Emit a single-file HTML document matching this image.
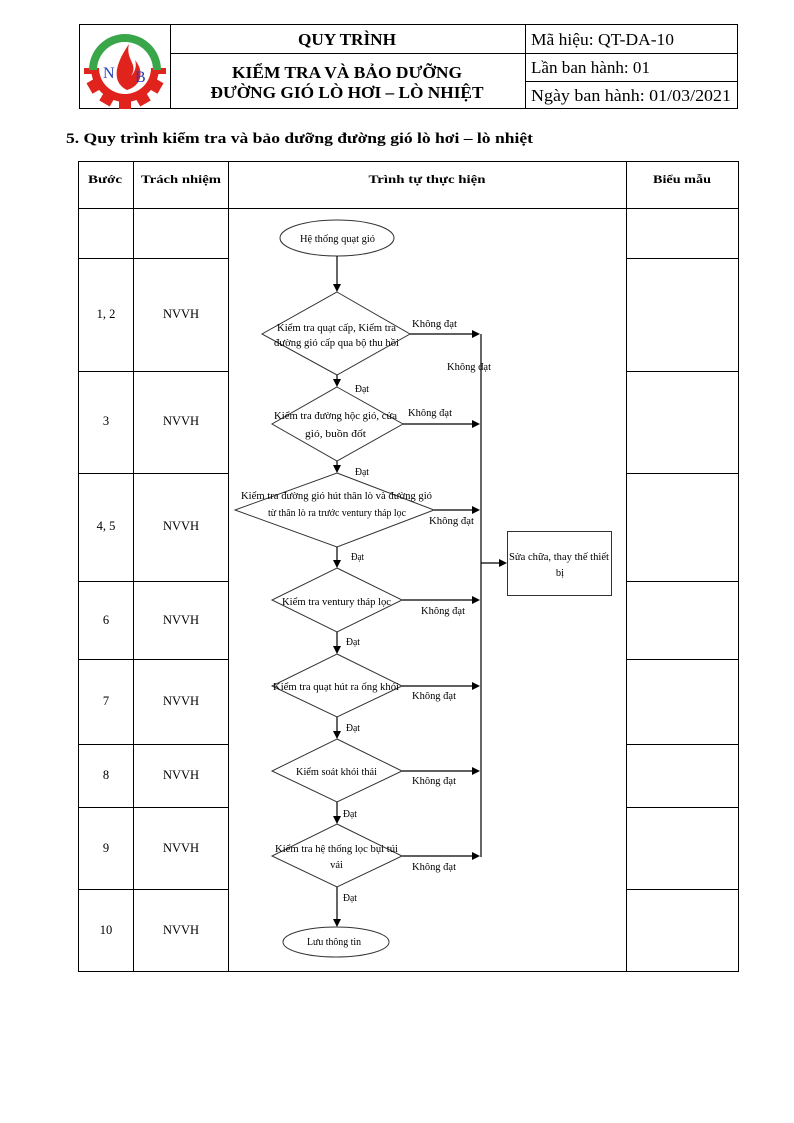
<!DOCTYPE html>
<html><head><meta charset="utf-8"><style>
html,body{margin:0;padding:0;background:#fff;}
svg{display:block;}
text{font-family:"Liberation Serif","DejaVu Serif",serif;fill:#000;}
.b{font-weight:bold;}
.f{font-size:10.5px;}
</style></head><body>
<svg width="794" height="1123" viewBox="0 0 794 1123" xmlns="http://www.w3.org/2000/svg">
<rect width="794" height="1123" fill="#fff"/>
<!-- Header table -->
<g stroke="#000" stroke-width="1" fill="none">
<rect x="79.5" y="24.5" width="658" height="84"/>
<line x1="170.5" y1="24" x2="170.5" y2="109"/>
<line x1="525.5" y1="24" x2="525.5" y2="109"/>
<line x1="170" y1="53.5" x2="738" y2="53.5"/>
<line x1="525" y1="81.5" x2="738" y2="81.5"/>
</g>
<!-- Logo -->
<g transform="translate(125,68)">
<g fill="#e0231c">
<circle r="34"/>
<g id="teeth">
<rect x="-6" y="-41" width="12" height="10"/>
<rect x="-6" y="-41" width="12" height="10" transform="rotate(30)"/>
<rect x="-6" y="-41" width="12" height="10" transform="rotate(60)"/>
<rect x="-6" y="-41" width="12" height="10" transform="rotate(90)"/>
<rect x="-6" y="-41" width="12" height="10" transform="rotate(120)"/>
<rect x="-6" y="-41" width="12" height="10" transform="rotate(150)"/>
<rect x="-6" y="-41" width="12" height="10" transform="rotate(180)"/>
<rect x="-6" y="-41" width="12" height="10" transform="rotate(210)"/>
<rect x="-6" y="-41" width="12" height="10" transform="rotate(240)"/>
<rect x="-6" y="-41" width="12" height="10" transform="rotate(270)"/>
<rect x="-6" y="-41" width="12" height="10" transform="rotate(300)"/>
<rect x="-6" y="-41" width="12" height="10" transform="rotate(330)"/>
</g>
</g>
<path d="M-42,0 A42,42 0 0 1 42,0 L0,0 Z" fill="#fff"/>
<path d="M-36,2 A36,36 0 0 1 36,2 L28,2 A28,28 0 0 0 -28,2 Z" fill="#3aa64a"/>
<circle r="26" fill="#fff"/>
<path d="M2,22 C-14,14 -10,-4 4,-24 C0,-8 14,-4 6,8 C10,4 12,-2 10,-8 C20,4 16,18 2,22 Z" fill="#e0231c"/>
<text x="-22" y="10" style="font-size:16px;fill:#2b3fb0;">N</text>
<text x="10" y="14" style="font-size:16px;fill:#2b3fb0;">B</text>
</g>
<!-- Header text -->
<text class="b" x="347" y="45" text-anchor="middle" style="font-size:16.5px;" textLength="98" lengthAdjust="spacingAndGlyphs">QUY TRÌNH</text>
<text class="b" x="347" y="78" text-anchor="middle" style="font-size:16.5px;" textLength="230" lengthAdjust="spacingAndGlyphs">KIỂM TRA VÀ BẢO DƯỠNG</text>
<text class="b" x="347" y="98" text-anchor="middle" style="font-size:16.5px;" textLength="273" lengthAdjust="spacingAndGlyphs">ĐƯỜNG GIÓ LÒ HƠI – LÒ NHIỆT</text>
<text x="531" y="45" style="font-size:17px;" textLength="143" lengthAdjust="spacingAndGlyphs">Mã hiệu: QT-DA-10</text>
<text x="531" y="73" style="font-size:17px;" textLength="119" lengthAdjust="spacingAndGlyphs">Lần ban hành: 01</text>
<text x="531" y="101" style="font-size:17px;" textLength="200" lengthAdjust="spacingAndGlyphs">Ngày ban hành: 01/03/2021</text>
<!-- Section title -->
<text class="b" x="66" y="143" style="font-size:15px;" textLength="467" lengthAdjust="spacingAndGlyphs">5.  Quy trình kiểm tra và bảo dưỡng đường gió lò hơi – lò nhiệt</text>
<!-- Main table -->
<g stroke="#000" stroke-width="1" fill="none">
<rect x="78.5" y="161.5" width="660" height="810"/>
<line x1="133.5" y1="161" x2="133.5" y2="972"/>
<line x1="228.5" y1="161" x2="228.5" y2="972"/>
<line x1="626.5" y1="161" x2="626.5" y2="972"/>
<line x1="78" y1="208.5" x2="739" y2="208.5"/>
<path d="M78 258.5H228M626 258.5H739M78 371.5H228M626 371.5H739M78 473.5H228M626 473.5H739M78 581.5H228M626 581.5H739M78 659.5H228M626 659.5H739M78 744.5H228M626 744.5H739M78 807.5H228M626 807.5H739M78 889.5H228M626 889.5H739"/>
</g>
<text class="b" x="105" y="183" text-anchor="middle" style="font-size:12px;" textLength="34" lengthAdjust="spacingAndGlyphs">Bước</text>
<text class="b" x="181" y="183" text-anchor="middle" style="font-size:12px;" textLength="80" lengthAdjust="spacingAndGlyphs">Trách nhiệm</text>
<text class="b" x="427" y="183" text-anchor="middle" style="font-size:12px;" textLength="117" lengthAdjust="spacingAndGlyphs">Trình tự thực hiện</text>
<text class="b" x="682" y="183" text-anchor="middle" style="font-size:12px;" textLength="58" lengthAdjust="spacingAndGlyphs">Biểu mẫu</text>
<g style="font-size:12.5px;" text-anchor="middle">
<text x="106" y="318">1, 2</text><text x="181" y="318">NVVH</text>
<text x="106" y="425">3</text><text x="181" y="425">NVVH</text>
<text x="106" y="530">4, 5</text><text x="181" y="530">NVVH</text>
<text x="106" y="624">6</text><text x="181" y="624">NVVH</text>
<text x="106" y="705">7</text><text x="181" y="705">NVVH</text>
<text x="106" y="779">8</text><text x="181" y="779">NVVH</text>
<text x="106" y="852">9</text><text x="181" y="852">NVVH</text>
<text x="106" y="934">10</text><text x="181" y="934">NVVH</text>
</g>
<!-- Flowchart shapes -->
<g stroke="#333" stroke-width="1" fill="none">
<ellipse cx="337" cy="238" rx="57" ry="18"/>
<polygon points="337,292 410,334 337,375 262,334"/>
<polygon points="337,387 403,424 337,461 272,424"/>
<polygon points="337,473 434,510 337,547 235,510"/>
<polygon points="337,568 402,600 337,632 272,600"/>
<polygon points="337,654 402,686 337,717 272,686"/>
<polygon points="337,739 402,771 337,802 272,771"/>
<polygon points="337,824 402,856 337,887 272,856"/>
<ellipse cx="336" cy="942" rx="53" ry="15"/>
<rect x="507.5" y="531.5" width="104" height="64"/>
</g>
<!-- Connectors -->
<g stroke="#000" stroke-width="1.2" fill="none">
<path d="M337 256V285M337 375V380M337 461V466M337 547V561M337 632V647M337 717V732M337 802V817M337 887V920"/>
<path d="M410 334H473M403 424H473M434 510H473M402 600H473M402 686H473M402 771H473M402 856H473"/>
<path d="M481 334V857M481 563H500"/>
</g>
<g fill="#000">
<polygon points="333,284 341,284 337,292"/>
<polygon points="333,379 341,379 337,387"/>
<polygon points="333,465 341,465 337,473"/>
<polygon points="333,560 341,560 337,568"/>
<polygon points="333,646 341,646 337,654"/>
<polygon points="333,731 341,731 337,739"/>
<polygon points="333,816 341,816 337,824"/>
<polygon points="333,919 341,919 337,927"/>
<polygon points="472,330 472,338 480,334"/>
<polygon points="472,420 472,428 480,424"/>
<polygon points="472,506 472,514 480,510"/>
<polygon points="472,596 472,604 480,600"/>
<polygon points="472,682 472,690 480,686"/>
<polygon points="472,767 472,775 480,771"/>
<polygon points="472,852 472,860 480,856"/>
<polygon points="499,559 499,567 507,563"/>
</g>
<!-- Flowchart text -->
<g class="f">
<text x="337.5" y="242" text-anchor="middle" textLength="75" lengthAdjust="spacingAndGlyphs">Hệ thống quạt gió</text>
<text x="336.5" y="331" text-anchor="middle" textLength="119" lengthAdjust="spacingAndGlyphs">Kiểm tra quạt cấp, Kiểm tra</text>
<text x="336.5" y="346" text-anchor="middle" textLength="125" lengthAdjust="spacingAndGlyphs">đường gió cấp qua bộ thu hồi</text>
<text x="412" y="327" textLength="45" lengthAdjust="spacingAndGlyphs">Không đạt</text>
<text x="447" y="370" textLength="44" lengthAdjust="spacingAndGlyphs">Không đạt</text>
<text x="355" y="392" textLength="14" lengthAdjust="spacingAndGlyphs">Đạt</text>
<text x="335.5" y="419" text-anchor="middle" textLength="123" lengthAdjust="spacingAndGlyphs">Kiểm tra đường hộc gió, cửa</text>
<text x="335.5" y="437" text-anchor="middle" textLength="61" lengthAdjust="spacingAndGlyphs">gió, buồn đốt</text>
<text x="408" y="416" textLength="44" lengthAdjust="spacingAndGlyphs">Không đạt</text>
<text x="355" y="475" textLength="14" lengthAdjust="spacingAndGlyphs">Đạt</text>
<text x="336.5" y="499" text-anchor="middle" textLength="191" lengthAdjust="spacingAndGlyphs">Kiểm tra đường gió hút thân lò và đường gió</text>
<text x="337" y="516" text-anchor="middle" textLength="138" lengthAdjust="spacingAndGlyphs">từ thân lò ra trước ventury tháp lọc</text>
<text x="429" y="524" textLength="45" lengthAdjust="spacingAndGlyphs">Không đạt</text>
<text x="351" y="560" textLength="13" lengthAdjust="spacingAndGlyphs">Đạt</text>
<text x="559" y="560" text-anchor="middle" textLength="100" lengthAdjust="spacingAndGlyphs">Sửa chữa, thay thế thiết</text>
<text x="560" y="576" text-anchor="middle">bị</text>
<text x="336.5" y="605" text-anchor="middle" textLength="109" lengthAdjust="spacingAndGlyphs">Kiểm tra ventury tháp lọc</text>
<text x="421" y="614" textLength="44" lengthAdjust="spacingAndGlyphs">Không đạt</text>
<text x="346" y="645" textLength="14" lengthAdjust="spacingAndGlyphs">Đạt</text>
<text x="336" y="690" text-anchor="middle" textLength="126" lengthAdjust="spacingAndGlyphs">Kiểm tra quạt hút ra ống khói</text>
<text x="412" y="699" textLength="44" lengthAdjust="spacingAndGlyphs">Không đạt</text>
<text x="346" y="731" textLength="14" lengthAdjust="spacingAndGlyphs">Đạt</text>
<text x="336.5" y="775" text-anchor="middle" textLength="81" lengthAdjust="spacingAndGlyphs">Kiểm soát khói thải</text>
<text x="412" y="784" textLength="44" lengthAdjust="spacingAndGlyphs">Không đạt</text>
<text x="343" y="817" textLength="14" lengthAdjust="spacingAndGlyphs">Đạt</text>
<text x="336.5" y="852" text-anchor="middle" textLength="123" lengthAdjust="spacingAndGlyphs">Kiểm tra hệ thống lọc bụi túi</text>
<text x="336.5" y="868" text-anchor="middle">vải</text>
<text x="412" y="870" textLength="44" lengthAdjust="spacingAndGlyphs">Không đạt</text>
<text x="343" y="901" textLength="14" lengthAdjust="spacingAndGlyphs">Đạt</text>
<text x="334" y="945" text-anchor="middle" textLength="54" lengthAdjust="spacingAndGlyphs">Lưu thông tin</text>
</g>
</svg>
</body></html>
